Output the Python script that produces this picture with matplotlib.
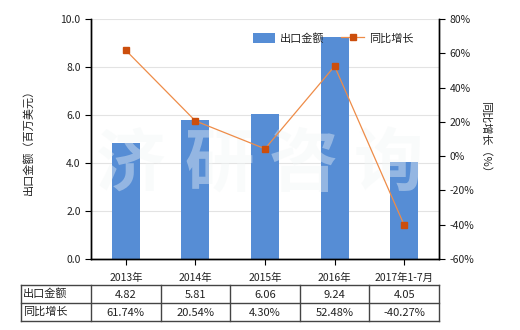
import matplotlib
matplotlib.use("Agg")
import matplotlib.pyplot as plt
from matplotlib.transforms import blended_transform_factory
from matplotlib.lines import Line2D

plt.rcParams['font.family'] = ['Noto Sans CJK SC', 'DejaVu Sans']

categories = ["2013年", "2014年", "2015年", "2016年", "2017年1-7月"]
export_values = [4.82, 5.81, 6.06, 9.24, 4.05]
growth_values = [61.74, 20.54, 4.30, 52.48, -40.27]
export_labels = ["4.82", "5.81", "6.06", "9.24", "4.05"]
growth_labels = ["61.74%", "20.54%", "4.30%", "52.48%", "-40.27%"]
row_names = ["出口金额", "同比增长"]
left_ticks = [0, 2, 4, 6, 8, 10]
right_ticks = [-60, -40, -20, 0, 20, 40, 60, 80]
watermark_chars = ["济", "研", "咨", "询"]

bar_color = '#568DD5'
line_color = '#EE8C48'
marker_color = '#CC4E0C'
text_color = '#222222'
fs = 7.5

fig = plt.figure(figsize=(5.2, 3.3), dpi=100)
W, H = 520, 330
ax = fig.add_axes([91 / W, 1 - 259 / H, (439 - 91) / W, (259 - 19) / H])
ax2 = ax.twinx()

x = list(range(len(categories)))
ax.bar(x, export_values, width=0.4, color=bar_color, zorder=2, label="出口金额")
ax.set_xlim(-0.5, len(categories) - 0.5)
ax.set_ylim(0, 10)
ax.set_yticks(left_ticks)
ax.set_yticklabels([f"{v:.1f}" for v in left_ticks])
ax.set_xticks(x)
ax.set_xticklabels(categories)
ax.grid(axis='y', color='#e3e3e3', linewidth=0.8, zorder=0)
ax.set_axisbelow(True)

ax2.plot(x, growth_values, color=line_color, linewidth=0.9, marker='s',
         markersize=5, markerfacecolor=marker_color, markeredgecolor=marker_color,
         zorder=3, label="同比增长")
ax2.set_ylim(-60, 80)
ax2.set_yticks(right_ticks)
ax2.set_yticklabels([f"{v}%" for v in right_ticks])

# watermark
wm_x = [130, 219, 303, 388]
for ch, px in zip(watermark_chars, wm_x):
    ax2.text(px / W, 1 - 166 / H, ch, transform=fig.transFigure, ha='center', va='center',
             fontsize=50, fontweight='bold', color='#f2f6f6', alpha=0.4, zorder=1)

for a in (ax, ax2):
    a.spines['top'].set_visible(False)
    for s in ('left', 'right', 'bottom'):
        a.spines[s].set_color('black')
        a.spines[s].set_linewidth(1.0)
    a.tick_params(labelsize=fs, colors='black', labelcolor=text_color, length=4, width=0.8)
ax.tick_params(axis='x', pad=6)

ax.set_ylabel("出口金额（百万美元）", fontsize=fs + 0.5, color=text_color)
ax2.set_ylabel("同比增长（%）", fontsize=fs + 0.5, color=text_color, rotation=270)
ax.yaxis.set_label_coords(-57 / 348, 0.5)
ax2.yaxis.set_label_coords(1 + 52 / 348, 0.5)

# legend
h1, l1 = ax.get_legend_handles_labels()
h2, l2 = ax2.get_legend_handles_labels()
leg = fig.legend(h1 + h2, l1 + l2, ncol=2, frameon=False, fontsize=fs + 0.5,
                 loc='center left', bbox_to_anchor=(243 / W, 1 - 38 / H),
                 handlelength=2.0, handleheight=1.0, columnspacing=1.5, handletextpad=0.45)
for t in leg.get_texts():
    t.set_color(text_color)

# table
tr = blended_transform_factory(ax.transData, fig.transFigure)
y_top, y_mid, y_bot = 1 - 285 / H, 1 - 303 / H, 1 - 321 / H
x_left = -0.5 - 70 / 69.6
x_right = len(categories) - 0.5
tcol = '#444444'
for yy in (y_top, y_mid, y_bot):
    fig.add_artist(Line2D([x_left, x_right], [yy, yy], transform=tr, color=tcol, linewidth=1.0))
for xx in [x_left] + [i - 0.5 for i in range(len(categories) + 1)]:
    fig.add_artist(Line2D([xx, xx], [y_bot, y_top], transform=tr, color=tcol, linewidth=1.0))

rows = [export_labels, growth_labels]
ycent = [(y_top + y_mid) / 2, (y_mid + y_bot) / 2]
for r, (name, vals) in enumerate(zip(row_names, rows)):
    fig.text(x_left + 0.03, ycent[r], name, transform=tr, ha='left', va='center',
             fontsize=fs + 0.5, color=text_color)
    for i, v in enumerate(vals):
        fig.text(i, ycent[r] - 0.004, v, transform=tr, ha='center', va='center',
                 fontsize=fs + 0.5, color=text_color)

fig.savefig("out.png", dpi=100)
